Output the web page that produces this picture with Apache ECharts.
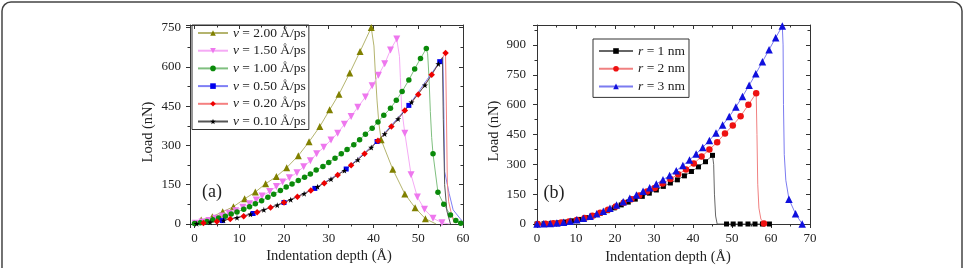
<!DOCTYPE html>
<html>
<head>
<meta charset="utf-8">
<script src="https://cdn.jsdelivr.net/npm/echarts@6/dist/echarts.min.js"></script>
<style>
html, body { margin: 0; padding: 0; background: #fff; }
#chart { width: 967px; height: 268px; }
</style>
</head>
<body>
<div id="chart"></div>
<script>
// ---- panel (a): load vs depth for several indentation speeds ----
// marked points [depth, load]; "plain" points only shape the line (no marker)
var v200Marks = [[1.5,15],[4.0,28],[6.3,47],[8.7,66],[11.2,96],[13.6,122],[15.9,154],[18.3,181],[20.6,215],[23.2,261],[25.6,314],[28.0,372],[30.2,436],[32.3,496],[34.7,577],[37.0,659],[39.5,750],[41.7,322],[44.3,209],[47.0,115],[49.3,62],[51.6,20]];
var v200Plain = [[0,0],[39.8,745],[40.1,680],[40.4,580],[40.8,470],[41.2,385],[54.0,0]];

var v150Marks = [[0.2,3],[1.7,8],[3.2,13],[4.7,22],[6.2,31],[7.7,41],[9.2,51],[10.8,64],[12.3,77],[13.8,92],[15.1,107],[16.8,124],[18.3,143],[19.7,160],[21.2,177],[22.9,196],[24.4,219],[25.9,242],[27.3,268],[28.9,293],[30.5,321],[32.0,347],[33.5,381],[35.0,411],[36.5,446],[38.2,485],[39.7,528],[41.1,568],[42.5,612],[43.8,665],[45.2,707],[47.0,347],[48.4,188],[49.8,103],[51.4,56],[53.3,22],[55.3,5]];
var v150Plain = [[0,0],[45.5,700],[45.8,640],[46.0,560],[46.3,440],[57.0,0]];

var v100Marks = [[0,2],[1.3,5],[2.8,10],[4.1,16],[5.4,23],[6.9,30],[8.2,38],[9.5,46],[11.0,56],[12.3,66],[13.6,77],[15.0,89],[16.4,102],[17.7,114],[19.2,128],[20.5,141],[21.8,153],[23.2,166],[24.6,179],[25.9,191],[27.2,206],[28.7,220],[30.0,235],[31.4,251],[32.8,268],[34.1,285],[35.6,303],[36.9,322],[38.2,343],[39.7,366],[41.0,390],[42.3,415],[43.8,442],[45.1,473],[46.4,506],[47.9,550],[49.2,592],[50.5,632],[51.8,670],[53.3,268],[54.4,121],[55.7,75],[57.2,34],[58.4,13],[59.5,3]];
var v100Plain = [[52.1,650],[52.4,560],[52.7,430],[53.0,330]];

var v050Marks = [[6.2,13],[13.1,40],[20.0,82],[26.9,136],[33.9,210],[40.8,315],[47.9,453],[54.8,620]];
var v050Plain = [[0,0],[55.5,637],[55.7,450],[55.9,200],[56.9,117],[57.8,54],[59.3,22],[60,8]];

var v020Marks = [[2,4],[5,10],[8,19],[11,30],[14,45],[17,63],[20,82],[23,104],[26,128],[29,156],[32,187],[35,224],[38,268],[41,318],[44,372],[47,433],[50,495],[53,570],[56.1,653]];
var v020Plain = [[0,0],[56.3,420],[56.5,160],[56.8,85],[57.4,40],[58,5]];

var v010Marks = [[0.5,1],[3.5,7],[6.5,14],[9.5,24],[12.5,37],[15.5,54],[18.5,72],[21.5,93],[24.5,116],[27.5,142],[30.5,171],[33.5,204],[36.5,245],[39.5,292],[42.5,344],[45.5,401],[48.5,465],[51.5,530],[54.5,611]];
var v010Plain = [[0,0],[55.4,636],[55.6,400],[55.9,150],[56.4,50],[57.2,0]];

// ---- panel (b): load vs depth for three tip radii ----
var r1Marks = [[0,0],[1.8,1],[3.6,3],[5.4,6],[7.2,10],[9.0,16],[10.8,23],[12.6,32],[14.4,42],[16.2,54],[18.0,67],[19.8,81],[21.6,96],[23.4,110],[25.2,125],[27.0,139],[28.8,155],[30.6,171],[32.4,189],[34.2,206],[36.0,222],[37.8,242],[39.6,264],[41.4,287],[43.2,313],[45.0,345],[48.6,0],[50.3,0],[52.1,0],[54.1,0],[55.9,0],[57.8,0],[59.6,0]];
var r1Plain = [[45.3,300],[45.5,150],[45.8,40],[46.2,0]];

var r2Marks = [[0.2,0],[2.2,1],[4.2,4],[6.2,7],[8.2,13],[10.2,20],[12.2,30],[14.2,41],[16.2,56],[18.2,72],[20.2,88],[22.2,107],[24.2,125],[26.2,143],[28.2,163],[30.2,181],[32.2,203],[34.2,226],[36.2,250],[38.2,274],[40.2,304],[42.2,339],[44.2,374],[46.2,411],[48.2,455],[50.2,495],[52.2,542],[54.2,599],[56.2,657],[58.2,3]];
var r2Plain = [[56.4,450],[56.6,200],[56.9,80],[57.4,25]];

var r3Marks = [[0,0],[1.7,1],[3.4,3],[5.1,5],[6.8,9],[8.5,14],[10.2,21],[11.9,29],[13.6,39],[15.3,51],[17.0,64],[18.7,79],[20.4,95],[22.1,112],[23.8,129],[25.5,146],[27.2,164],[28.9,182],[30.6,201],[32.3,222],[34.0,244],[35.7,268],[37.4,294],[39.1,322],[40.8,352],[42.5,385],[44.2,420],[45.9,457],[47.6,497],[49.3,540],[51.0,588],[52.7,641],[54.4,697],[56.1,755],[57.8,815],[59.5,876],[61.2,936],[62.9,995],[64.6,125],[66.3,51],[68.0,0]];
var r3Plain = [[63.1,900],[63.2,600],[63.4,350],[63.8,220]];

var serif = '"Liberation Serif", "Times New Roman", serif';
var ink = '#222';
var STAR = 'path://M50,0 L61.8,35.1 L98.9,35.1 L68.9,56.8 L80.3,91.9 L50,70.2 L19.7,91.9 L31.1,56.8 L1.1,35.1 L38.2,35.1 Z';
var TRI_DOWN = 'path://M0,0 L10,0 L5,9 Z';

function buildLine(marks, plain) {
	var pts = [];
	marks.forEach(function(p) { pts.push({ value: p }); });
	plain.forEach(function(p) { pts.push({ value: p, symbol: 'none' }); });
	pts.sort(function(a, b) { return a.value[0] - b.value[0]; });
	return pts;
}

function mkSeries(name, panel, marks, plain, sym, size, mColor, lColor) {
	return {
		type: 'line',
		name: name,
		xAxisIndex: panel * 2,
		yAxisIndex: panel * 2,
		data: buildLine(marks, plain),
		symbol: sym,
		symbolSize: size,
		showAllSymbol: true,
		itemStyle: { color: mColor },
		lineStyle: { color: lColor, width: 1 },
		emphasis: { disabled: true },
		animation: false
	};
}

function mkAxis(grid, pos, min, max, opts) {
	var main = pos === 'bottom' || pos === 'left';
	var ax = {
		type: 'value',
		gridIndex: grid,
		position: pos,
		min: min,
		max: max,
		axisLine: { onZero: false, lineStyle: { color: '#333', width: 1 } },
		axisTick: { inside: !main, length: 4, lineStyle: { color: '#333' } },
		minorTick: { show: true, splitNumber: 2, length: 2.5, lineStyle: { color: '#333' } },
		splitLine: { show: false },
		minorSplitLine: { show: false },
		axisLabel: { show: main, color: ink, fontFamily: serif, fontSize: 13, margin: 8, showMaxLabel: true }
	};
	for (var k in opts) {
		if (k === 'axisLabel') {
			for (var j in opts[k]) ax.axisLabel[j] = opts[k][j];
		} else ax[k] = opts[k];
	}
	return ax;
}

var legendStyle = {
	orient: 'vertical',
	selectedMode: false,
	borderColor: '#333',
	borderWidth: 1,
	borderRadius: 0,
	itemHeight: 7,
	itemGap: 3.7,
	formatter: function(name) { return '{i|' + name.charAt(0) + '}' + name.slice(1); },
	textStyle: {
		fontFamily: serif, fontSize: 13.5, color: ink, lineHeight: 14,
		rich: { i: { fontFamily: serif, fontSize: 13.5, fontStyle: 'italic', color: ink } }
	}
};

function legendAt(extra) {
	var o = {};
	for (var k in legendStyle) o[k] = legendStyle[k];
	for (var k2 in extra) o[k2] = extra[k2];
	return o;
}

var namesA = ['v = 2.00 Å/ps', 'v = 1.50 Å/ps', 'v = 1.00 Å/ps', 'v = 0.50 Å/ps', 'v = 0.20 Å/ps', 'v = 0.10 Å/ps'];
var namesB = ['r = 1 nm', 'r = 2 nm', 'r = 3 nm'];

var option = {
	backgroundColor: '#fff',
	animation: false,
	grid: [
		{ left: 190, top: 25, width: 273, height: 199 },
		{ left: 537, top: 25, width: 273, height: 199 }
	],
	xAxis: [
		mkAxis(0, 'bottom', -1, 60, { splitNumber: 6, axisLabel: { showMinLabel: false } }),
		mkAxis(0, 'top', -1, 60, { splitNumber: 6 }),
		mkAxis(1, 'bottom', 0, 70, { interval: 10 }),
		mkAxis(1, 'top', 0, 70, { interval: 10 })
	],
	yAxis: [
		mkAxis(0, 'left', 0, 760, { interval: 150, axisLabel: { showMaxLabel: false, margin: 9 } }),
		mkAxis(0, 'right', 0, 760, { interval: 150 }),
		mkAxis(1, 'left', 0, 1000, { interval: 150, axisLabel: { showMaxLabel: false, margin: 11 } }),
		mkAxis(1, 'right', 0, 1000, { interval: 150 })
	],
	legend: [
		legendAt({ data: namesA, left: 192, top: 25, itemWidth: 30, padding: [1, 3, 1, 5] }),
		legendAt({ data: namesB, left: 593, top: 39, itemWidth: 34, padding: [5, 4, 4, 5] })
	],
	series: [
		mkSeries(namesA[0], 0, v200Marks, v200Plain, 'triangle', 7, '#808000', '#b4b46e'),
		mkSeries(namesA[1], 0, v150Marks, v150Plain, TRI_DOWN, 7, '#ee77ee', '#f5aaf5'),
		mkSeries(namesA[2], 0, v100Marks, v100Plain, 'circle', 5.5, '#0a8a0a', '#7fbf7f'),
		mkSeries(namesA[3], 0, v050Marks, v050Plain, 'rect', 5, '#0000ee', '#7f7ff5'),
		mkSeries(namesA[4], 0, v020Marks, v020Plain, 'diamond', 6.5, '#ee0000', '#f58080'),
		mkSeries(namesA[5], 0, v010Marks, v010Plain, STAR, 6, '#000000', '#555555'),
		mkSeries(namesB[0], 1, r1Marks, r1Plain, 'rect', 5, '#000000', '#666666'),
		mkSeries(namesB[1], 1, r2Marks, r2Plain, 'circle', 6.5, '#ee1111', '#f08080'),
		mkSeries(namesB[2], 1, r3Marks, r3Plain, 'triangle', 7.5, '#1010dd', '#7b7bf0')
	],
	graphic: [
		{ type: 'rect', silent: true, z: -10, shape: { x: 2, y: 2, width: 960, height: 290, r: 9 },
		  style: { fill: 'none', stroke: '#444', lineWidth: 1.5 } },
		{ type: 'text', x: 148, y: 132, rotation: Math.PI / 2,
		  style: { text: 'Load (nN)', fontFamily: serif, fontSize: 14.5, fill: ink, align: 'center', verticalAlign: 'middle' } },
		{ type: 'text', x: 494, y: 131, rotation: Math.PI / 2,
		  style: { text: 'Load (nN)', fontFamily: serif, fontSize: 14.5, fill: ink, align: 'center', verticalAlign: 'middle' } },
		{ type: 'text', x: 329, y: 256,
		  style: { text: 'Indentation depth (Å)', fontFamily: serif, fontSize: 14.5, fill: ink, align: 'center', verticalAlign: 'middle' } },
		{ type: 'text', x: 668, y: 257,
		  style: { text: 'Indentation depth (Å)', fontFamily: serif, fontSize: 14.5, fill: ink, align: 'center', verticalAlign: 'middle' } },
		{ type: 'text', x: 212, y: 192,
		  style: { text: '(a)', fontFamily: serif, fontSize: 18, fill: ink, align: 'center', verticalAlign: 'middle' } },
		{ type: 'text', x: 554, y: 193,
		  style: { text: '(b)', fontFamily: serif, fontSize: 18, fill: ink, align: 'center', verticalAlign: 'middle' } }
	]
};

var chart = echarts.init(document.getElementById('chart'), null, { renderer: 'canvas' });
chart.setOption(option);
</script>
</body>
</html>
